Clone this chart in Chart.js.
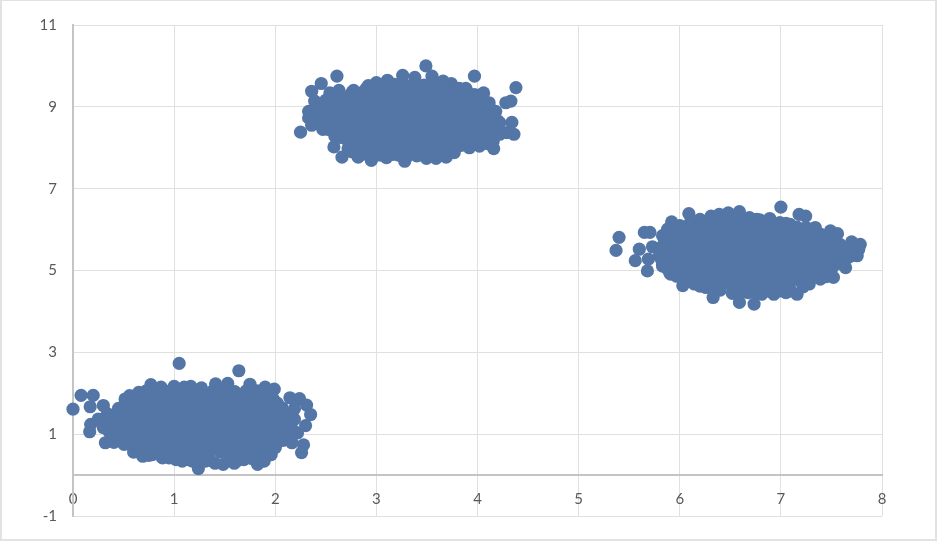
<!DOCTYPE html>
<html>
<head>
<meta charset="utf-8">
<title>Scatter clusters</title>
<script src="https://cdn.jsdelivr.net/npm/chart.js@4"></script>
<style>
  html, body { margin: 0; padding: 0; background: #fff; }
  #wrap { position: relative; width: 941px; height: 545px; overflow: hidden; }
  #frame { position: absolute; left: 0; top: 0; width: 937px; height: 541px; border: 1px solid #e2e2e2; border-width: 1px 2px 2px 2px; box-sizing: border-box; pointer-events: none; }
</style>
</head>
<body>
<div id="wrap">
  <canvas id="scatter-chart" width="941" height="545"></canvas>
  <div id="frame"></div>
</div>
<script>
// Values, [x, y]. Edge points are read one by one,
// the "fill" lists are estimates for the part that shows as a solid blob.
const lowerEdge = [[1.05,2.73],[1.64,2.55],[0,1.61],[0.08,1.95],[0.2,1.95],[0.17,1.67],[0.3,1.7],[0.77,2.21],[0.87,2.15],[1,2.17],[1.1,2.15],[1.165,2.17],[1.27,2.13],[1.41,2.23],[1.53,2.24],[1.75,2.22],[1.9,2.15],[1.99,2.1],[2.145,1.89],[2.24,1.87],[2.31,1.71],[2.35,1.48],[2.3,1.21],[2.19,1.62],[2.07,1.64],[1.97,1.85],[2.28,0.74],[2.26,0.55],[2.165,0.79],[2.22,1.03],[1.24,0.16],[1.825,0.26],[1.89,0.34],[1.96,0.5],[1.595,0.29],[1.485,0.26],[1.405,0.29],[1.08,0.34],[1.02,0.38],[0.885,0.42],[0.69,0.46],[0.6,0.56],[0.505,0.75],[0.405,0.8],[0.32,0.79],[0.165,1.06],[0.175,1.24],[0.25,1.37],[0.34,1.5],[0.45,1.63],[0.515,1.86],[0.56,1.94],[0.65,2.02],[1.775,0.4],[1.69,0.38],[1.31,0.34],[1.18,0.34],[0.785,0.5],[2,0.67],[2.1,0.87],[2.17,1.11],[2.19,1.36],[0.95,0.42],[1.14,0.38],[1.25,0.36],[1.36,0.36],[1.55,0.38],[1.63,0.36],[1.88,0.45],[0.75,0.48]];
const lowerFill = [
  [0.76,0.56],[0.85,0.54],[0.96,0.57],[1.05,0.55],[1.15,0.53],[1.26,0.56],[1.35,0.54],[1.46,0.57],[1.55,0.55],[1.64,0.53],[1.75,0.56],[1.84,0.55],[1.93,0.57],
  [0.66,0.65],[0.77,0.66],[0.88,0.64],[0.99,0.65],[1.1,0.66],[1.21,0.64],[1.32,0.65],[1.43,0.66],[1.54,0.64],[1.65,0.65],[1.76,0.66],[1.87,0.64],[1.97,0.65],
  [0.56,0.76],[0.65,0.74],[0.75,0.77],[0.84,0.75],[0.94,0.73],[1.04,0.76],[1.13,0.75],[1.23,0.77],[1.33,0.74],[1.42,0.76],[1.52,0.75],[1.62,0.73],[1.71,0.77],[1.81,0.75],[1.91,0.74],[2.01,0.76],
  [0.47,0.85],[0.58,0.86],[0.69,0.84],[0.8,0.85],[0.91,0.86],[1.02,0.84],[1.13,0.85],[1.24,0.86],[1.35,0.84],[1.46,0.85],[1.57,0.86],[1.68,0.84],[1.79,0.85],[1.9,0.86],[2,0.84],[2.08,0.85],
  [0.45,0.96],[0.54,0.94],[0.64,0.97],[0.74,0.95],[0.83,0.93],[0.93,0.96],[1.03,0.95],[1.12,0.97],[1.22,0.94],[1.31,0.96],[1.41,0.95],[1.51,0.93],[1.6,0.97],[1.7,0.95],[1.8,0.94],[1.89,0.96],[1.99,0.95],[2.09,0.97],
  [0.36,1.05],[0.47,1.06],[0.58,1.04],[0.69,1.05],[0.8,1.06],[0.91,1.04],[1.02,1.05],[1.13,1.06],[1.24,1.04],[1.35,1.05],[1.46,1.06],[1.57,1.04],[1.68,1.05],[1.79,1.06],[1.9,1.04],[2.01,1.05],[2.13,1.06],
  [0.3,1.16],[0.39,1.14],[0.49,1.17],[0.59,1.15],[0.68,1.13],[0.78,1.16],[0.88,1.15],[0.97,1.17],[1.07,1.14],[1.16,1.16],[1.26,1.15],[1.36,1.13],[1.45,1.17],[1.55,1.15],[1.65,1.14],[1.74,1.16],[1.84,1.15],[1.94,1.17],[2.03,1.14],[2.12,1.16],
  [0.3,1.25],[0.41,1.26],[0.52,1.24],[0.63,1.25],[0.74,1.26],[0.85,1.24],[0.96,1.25],[1.07,1.26],[1.18,1.24],[1.29,1.25],[1.4,1.26],[1.51,1.24],[1.62,1.25],[1.73,1.26],[1.84,1.24],[1.95,1.25],[2.06,1.26],[2.15,1.24],
  [0.36,1.36],[0.46,1.34],[0.55,1.37],[0.65,1.35],[0.74,1.33],[0.84,1.36],[0.94,1.35],[1.03,1.37],[1.13,1.34],[1.22,1.36],[1.32,1.35],[1.42,1.33],[1.51,1.37],[1.61,1.35],[1.71,1.34],[1.8,1.36],[1.9,1.35],[2,1.37],[2.09,1.34],
  [0.42,1.45],[0.53,1.46],[0.64,1.44],[0.75,1.45],[0.86,1.46],[0.97,1.44],[1.08,1.45],[1.19,1.46],[1.3,1.44],[1.41,1.45],[1.52,1.46],[1.63,1.44],[1.74,1.45],[1.85,1.46],[1.96,1.44],[2.07,1.45],[2.14,1.46],
  [0.52,1.56],[0.61,1.54],[0.7,1.57],[0.8,1.55],[0.9,1.53],[0.99,1.56],[1.09,1.55],[1.18,1.57],[1.28,1.54],[1.38,1.56],[1.47,1.55],[1.57,1.53],[1.67,1.57],[1.76,1.55],[1.86,1.54],[1.96,1.56],[2.05,1.55],
  [0.54,1.65],[0.65,1.66],[0.76,1.64],[0.87,1.65],[0.98,1.66],[1.09,1.64],[1.2,1.65],[1.31,1.66],[1.42,1.64],[1.53,1.65],[1.64,1.66],[1.75,1.64],[1.86,1.65],[1.97,1.66],[2.03,1.64],
  [0.58,1.76],[0.67,1.74],[0.77,1.77],[0.86,1.75],[0.96,1.73],[1.06,1.76],[1.15,1.75],[1.25,1.77],[1.34,1.74],[1.44,1.76],[1.54,1.75],[1.63,1.73],[1.73,1.77],[1.83,1.75],[1.92,1.74],[2.02,1.76],
  [0.6,1.85],[0.71,1.86],[0.82,1.84],[0.93,1.85],[1.04,1.86],[1.15,1.84],[1.26,1.85],[1.37,1.86],[1.48,1.84],[1.59,1.85],[1.7,1.86],[1.81,1.84],[1.92,1.85],[1.98,1.86],
  [0.66,1.96],[0.75,1.94],[0.85,1.97],[0.95,1.95],[1.04,1.93],[1.14,1.96],[1.24,1.95],[1.33,1.97],[1.43,1.94],[1.52,1.96],[1.62,1.95],[1.72,1.93],[1.81,1.97],[1.91,1.95],
  [0.72,2.05],[0.83,2.06],[0.94,2.04],[1.05,2.05],[1.16,2.06],[1.27,2.04],[1.38,2.05],[1.49,2.06],[1.6,2.04],[1.71,2.05],[1.82,2.06],[1.85,2.04]
];
const upperEdge = [[3.49,10],[2.61,9.75],[3.97,9.75],[4.38,9.47],[2.455,9.57],[2.36,9.38],[4.33,9.14],[4.28,9.1],[4.34,8.62],[4.36,8.33],[2.25,8.38],[2.58,8.02],[2.66,7.77],[2.95,7.69],[3.28,7.67],[4.16,7.98],[3.55,9.75],[3.26,9.77],[3.38,9.72],[3.11,9.65],[3,9.59],[2.92,9.52],[2.775,9.4],[2.63,9.4],[2.54,9.34],[2.39,9.14],[2.33,8.89],[2.33,8.73],[2.36,8.55],[2.47,8.45],[2.59,8.28],[2.72,7.98],[2.82,7.77],[3.1,7.76],[3.165,7.84],[3.495,7.74],[3.59,7.74],[3.69,7.77],[3.77,7.88],[3.865,8.08],[4.02,8.04],[4.155,8.16],[4.22,8.33],[4.29,8.37],[4.22,8.61],[4.18,8.89],[4.115,9.1],[4.06,9.34],[3.97,9.3],[3.885,9.45],[3.74,9.57],[3.66,9.63],[2.76,7.9],[2.88,7.85],[2.98,7.8],[3.04,7.82],[3.22,7.82],[3.3,7.78],[3.4,7.8],[3.46,7.82],[3.55,7.82],[3.65,7.82],[3.97,8.1],[4.1,8.1],[3.92,8]];
const upperFill = [
  [2.83,7.96],[2.92,7.94],[3.02,7.97],[3.12,7.95],[3.21,7.93],[3.31,7.96],[3.4,7.95],[3.5,7.97],[3.6,7.94],[3.69,7.96],
  [2.76,8.05],[2.87,8.06],[2.98,8.04],[3.09,8.05],[3.2,8.06],[3.31,8.04],[3.42,8.05],[3.53,8.06],[3.64,8.04],[3.75,8.05],[3.84,8.06],
  [2.72,8.16],[2.81,8.14],[2.91,8.17],[3.01,8.15],[3.1,8.13],[3.2,8.16],[3.29,8.15],[3.39,8.17],[3.49,8.14],[3.58,8.16],[3.68,8.15],[3.78,8.13],[3.87,8.17],[3.97,8.15],[4.06,8.14],
  [2.65,8.25],[2.76,8.26],[2.87,8.24],[2.98,8.25],[3.09,8.26],[3.2,8.24],[3.31,8.25],[3.42,8.26],[3.53,8.24],[3.64,8.25],[3.75,8.26],[3.86,8.24],[3.97,8.25],[4.05,8.26],
  [2.62,8.36],[2.72,8.34],[2.81,8.37],[2.91,8.35],[3,8.33],[3.1,8.36],[3.2,8.35],[3.29,8.37],[3.39,8.34],[3.48,8.36],[3.58,8.35],[3.68,8.33],[3.77,8.37],[3.87,8.35],[3.97,8.34],[4.06,8.36],[4.14,8.35],
  [2.52,8.45],[2.63,8.46],[2.74,8.44],[2.85,8.45],[2.96,8.46],[3.07,8.44],[3.18,8.45],[3.29,8.46],[3.4,8.44],[3.51,8.45],[3.62,8.46],[3.73,8.44],[3.84,8.45],[3.95,8.46],[4.06,8.44],[4.18,8.45],
  [2.45,8.56],[2.55,8.54],[2.64,8.57],[2.74,8.55],[2.83,8.53],[2.93,8.56],[3.03,8.55],[3.12,8.57],[3.22,8.54],[3.31,8.56],[3.41,8.55],[3.51,8.53],[3.6,8.57],[3.7,8.55],[3.8,8.54],[3.89,8.56],[3.99,8.55],[4.09,8.57],[4.17,8.54],
  [2.42,8.65],[2.53,8.66],[2.64,8.64],[2.75,8.65],[2.86,8.66],[2.97,8.64],[3.08,8.65],[3.19,8.66],[3.3,8.64],[3.41,8.65],[3.52,8.66],[3.63,8.64],[3.74,8.65],[3.85,8.66],[3.96,8.64],[4.07,8.65],[4.2,8.66],
  [2.42,8.76],[2.51,8.74],[2.6,8.77],[2.7,8.75],[2.8,8.73],[2.89,8.76],[2.99,8.75],[3.08,8.77],[3.18,8.74],[3.28,8.76],[3.37,8.75],[3.47,8.73],[3.57,8.77],[3.66,8.75],[3.76,8.74],[3.85,8.76],[3.95,8.75],[4.05,8.77],[4.14,8.74],
  [2.4,8.85],[2.51,8.86],[2.62,8.84],[2.73,8.85],[2.84,8.86],[2.95,8.84],[3.06,8.85],[3.17,8.86],[3.28,8.84],[3.39,8.85],[3.5,8.86],[3.61,8.84],[3.72,8.85],[3.83,8.86],[3.94,8.84],[4.05,8.85],[4.16,8.86],
  [2.43,8.96],[2.53,8.94],[2.62,8.97],[2.72,8.95],[2.81,8.93],[2.91,8.96],[3.01,8.95],[3.1,8.97],[3.2,8.94],[3.29,8.96],[3.39,8.95],[3.49,8.93],[3.58,8.97],[3.68,8.95],[3.78,8.94],[3.87,8.96],[3.97,8.95],[4.07,8.97],[4.13,8.94],
  [2.45,9.05],[2.56,9.06],[2.67,9.04],[2.78,9.05],[2.89,9.06],[3,9.04],[3.11,9.05],[3.22,9.06],[3.33,9.04],[3.44,9.05],[3.55,9.06],[3.66,9.04],[3.77,9.05],[3.88,9.06],[3.99,9.04],[4.1,9.05],
  [2.5,9.16],[2.6,9.14],[2.69,9.17],[2.79,9.15],[2.88,9.13],[2.98,9.16],[3.08,9.15],[3.17,9.17],[3.27,9.14],[3.36,9.16],[3.46,9.15],[3.56,9.13],[3.65,9.17],[3.75,9.15],[3.85,9.14],[3.94,9.16],[4.03,9.15],
  [2.62,9.25],[2.73,9.26],[2.84,9.24],[2.95,9.25],[3.06,9.26],[3.17,9.24],[3.28,9.25],[3.39,9.26],[3.5,9.24],[3.61,9.25],[3.72,9.26],[3.83,9.24],[3.94,9.25],[4,9.26],
  [2.76,9.36],[2.85,9.34],[2.95,9.37],[3.05,9.35],[3.14,9.33],[3.24,9.36],[3.33,9.35],[3.43,9.37],[3.53,9.34],[3.62,9.36],[3.72,9.35],[3.82,9.33],[3.9,9.36],
  [2.9,9.45],[3.01,9.46],[3.12,9.44],[3.23,9.45],[3.34,9.46],[3.45,9.44],[3.56,9.45],[3.67,9.46],[3.78,9.44],[3.82,9.45],
  [3.08,9.53],[3.18,9.55],[3.28,9.54],[3.38,9.56],[3.47,9.53],[3.57,9.55],[3.66,9.54]
];
const rightEdge = [[7,6.55],[5.4,5.81],[5.37,5.49],[5.65,5.93],[5.705,5.93],[5.6,5.52],[5.56,5.24],[5.68,4.99],[5.73,5.58],[5.69,5.28],[5.92,6.19],[6.09,6.39],[6.31,6.33],[6.39,6.37],[6.48,6.41],[6.59,6.44],[6.69,6.29],[6.89,6.27],[7.09,6.13],[7.18,6.37],[7.245,6.33],[7.34,6.05],[7.49,5.97],[7.56,5.9],[7.7,5.7],[7.785,5.64],[7.77,5.52],[7.755,5.36],[7.64,5.07],[7.52,4.83],[7.28,4.67],[7.16,4.42],[6.93,4.42],[6.735,4.18],[6.59,4.22],[6.33,4.34],[6.52,4.44],[6.03,4.63],[6.26,4.585],[6.145,4.67],[5.83,5.11],[5.91,4.91],[5.815,5.56],[5.83,5.85],[5.88,6.01],[6.81,4.42],[6.675,4.46],[7.05,4.46],[7.39,4.79],[7.62,5.32],[7.585,5.64],[7.39,5.89],[6.76,6.25],[6.99,6.17],[6.4,4.52],[6.6,4.45],[6.75,4.45],[6.88,4.5],[6.98,4.5],[7.1,4.5],[7.22,4.6],[6.2,4.62],[7.45,4.85],[5.9,5],[5.85,5.7],[5.9,5.9],[6,6.1],[6.2,6.25]];
const rightFill = [
  [6.22,4.66],[6.32,4.64],[6.41,4.67],[6.51,4.65],[6.6,4.63],[6.7,4.66],[6.8,4.65],[6.89,4.67],[6.99,4.64],[7.08,4.66],
  [6.08,4.75],[6.19,4.76],[6.3,4.74],[6.41,4.75],[6.52,4.76],[6.63,4.74],[6.74,4.75],[6.85,4.76],[6.96,4.74],[7.07,4.75],[7.18,4.76],[7.25,4.74],
  [5.97,4.86],[6.07,4.84],[6.16,4.87],[6.26,4.85],[6.36,4.83],[6.45,4.86],[6.55,4.85],[6.64,4.87],[6.74,4.84],[6.84,4.86],[6.93,4.85],[7.03,4.83],[7.13,4.87],[7.22,4.85],[7.32,4.84],[7.41,4.86],
  [5.9,4.95],[6.01,4.96],[6.12,4.94],[6.23,4.95],[6.34,4.96],[6.45,4.94],[6.56,4.95],[6.67,4.96],[6.78,4.94],[6.89,4.95],[7,4.96],[7.11,4.94],[7.22,4.95],[7.33,4.96],[7.44,4.94],[7.48,4.95],
  [5.87,5.06],[5.97,5.04],[6.06,5.07],[6.16,5.05],[6.25,5.03],[6.35,5.06],[6.45,5.05],[6.54,5.07],[6.64,5.04],[6.73,5.06],[6.83,5.05],[6.93,5.03],[7.02,5.07],[7.12,5.05],[7.22,5.04],[7.31,5.06],[7.41,5.05],[7.51,5.07],
  [5.83,5.15],[5.94,5.16],[6.05,5.14],[6.16,5.15],[6.27,5.16],[6.38,5.14],[6.49,5.15],[6.6,5.16],[6.71,5.14],[6.82,5.15],[6.93,5.16],[7.04,5.14],[7.15,5.15],[7.26,5.16],[7.37,5.14],[7.48,5.15],[7.6,5.16],
  [5.82,5.26],[5.91,5.24],[6.01,5.27],[6.11,5.25],[6.2,5.23],[6.3,5.26],[6.39,5.25],[6.49,5.27],[6.59,5.24],[6.68,5.26],[6.78,5.25],[6.88,5.23],[6.97,5.27],[7.07,5.25],[7.16,5.24],[7.26,5.26],[7.36,5.25],[7.45,5.27],[7.55,5.24],[7.64,5.26],
  [5.8,5.35],[5.91,5.36],[6.02,5.34],[6.13,5.35],[6.24,5.36],[6.35,5.34],[6.46,5.35],[6.57,5.36],[6.68,5.34],[6.79,5.35],[6.9,5.36],[7.01,5.34],[7.12,5.35],[7.23,5.36],[7.34,5.34],[7.45,5.35],[7.56,5.36],[7.68,5.34],
  [5.8,5.46],[5.89,5.44],[5.99,5.47],[6.09,5.45],[6.18,5.43],[6.28,5.46],[6.37,5.45],[6.47,5.47],[6.57,5.44],[6.66,5.46],[6.76,5.45],[6.86,5.43],[6.95,5.47],[7.05,5.45],[7.14,5.44],[7.24,5.46],[7.34,5.45],[7.43,5.47],[7.53,5.44],[7.62,5.46],[7.7,5.45],
  [5.82,5.55],[5.93,5.56],[6.04,5.54],[6.15,5.55],[6.26,5.56],[6.37,5.54],[6.48,5.55],[6.59,5.56],[6.7,5.54],[6.81,5.55],[6.92,5.56],[7.03,5.54],[7.14,5.55],[7.25,5.56],[7.36,5.54],[7.47,5.55],[7.6,5.56],
  [5.85,5.66],[5.95,5.64],[6.04,5.67],[6.14,5.65],[6.23,5.63],[6.33,5.66],[6.43,5.65],[6.52,5.67],[6.62,5.64],[6.71,5.66],[6.81,5.65],[6.91,5.63],[7,5.67],[7.1,5.65],[7.2,5.64],[7.29,5.66],[7.39,5.65],[7.49,5.67],
  [5.88,5.75],[5.99,5.76],[6.1,5.74],[6.21,5.75],[6.32,5.76],[6.43,5.74],[6.54,5.75],[6.65,5.76],[6.76,5.74],[6.87,5.75],[6.98,5.76],[7.09,5.74],[7.2,5.75],[7.31,5.76],[7.42,5.74],[7.45,5.75],
  [5.93,5.86],[6.03,5.84],[6.12,5.87],[6.22,5.85],[6.31,5.83],[6.41,5.86],[6.51,5.85],[6.6,5.87],[6.7,5.84],[6.79,5.86],[6.89,5.85],[6.99,5.83],[7.08,5.87],[7.18,5.85],[7.28,5.84],[7.36,5.86],
  [5.95,5.95],[6.06,5.96],[6.17,5.94],[6.28,5.95],[6.39,5.96],[6.5,5.94],[6.61,5.95],[6.72,5.96],[6.83,5.94],[6.94,5.95],[7.05,5.96],[7.16,5.94],[7.27,5.95],[7.32,5.96],
  [6,6.06],[6.1,6.04],[6.19,6.07],[6.29,6.05],[6.39,6.03],[6.48,6.06],[6.58,6.05],[6.67,6.07],[6.77,6.04],[6.87,6.06],[6.96,6.05],[7.06,6.03],[7.16,6.06],[7.25,6.05],
  [6.1,6.15],[6.21,6.16],[6.32,6.14],[6.43,6.15],[6.54,6.16],[6.65,6.14],[6.76,6.15],[6.87,6.16],[6.98,6.14],[7.05,6.15],
  [6.3,6.22],[6.4,6.24],[6.5,6.23],[6.6,6.25],[6.69,6.22],[6.79,6.24]
];

const xTicks = [0, 1, 2, 3, 4, 5, 6, 7, 8];
const yTicks = [-1, 1, 3, 5, 7, 9, 11];
const allPoints = [].concat(lowerEdge, lowerFill, upperEdge, upperFill, rightEdge, rightFill);

const tickFont = { family: 'Lato, "Open Sans", sans-serif', size: 15 };

new Chart(document.getElementById('scatter-chart'), {
  type: 'scatter',
  data: {
    datasets: [{
      label: 'Series1',
      data: allPoints.map(p => ({ x: p[0], y: p[1] })),
      backgroundColor: '#5376a6',
      borderWidth: 0,
      pointRadius: 6.6,
      clip: false
    }]
  },
  options: {
    responsive: false,
    animation: false,
    layout: { padding: { top: 24, right: 59, bottom: 29, left: 0 } },
    plugins: { legend: { display: false }, tooltip: { enabled: false } },
    scales: {
      x: {
        type: 'linear',
        min: xTicks[0],
        max: xTicks[xTicks.length - 1],
        position: { y: 0 },
        afterBuildTicks: scale => { scale.ticks = xTicks.map(v => ({ value: v })); },
        grid: { color: '#e0e0e0', lineWidth: 1, drawTicks: false },
        border: { color: '#c4c4c4', width: 2 },
        ticks: { color: '#595959', font: tickFont, padding: 15, maxRotation: 0 }
      },
      y: {
        type: 'linear',
        min: yTicks[0],
        max: yTicks[yTicks.length - 1],
        afterBuildTicks: scale => { scale.ticks = yTicks.map(v => ({ value: v })); },
        afterFit: scale => { scale.width = 73; },
        grid: { color: '#e0e0e0', lineWidth: 1, drawTicks: false },
        border: { color: '#c4c4c4', width: 2 },
        ticks: { color: '#595959', font: tickFont, padding: 16 }
      }
    }
  }
});
</script>
</body>
</html>
